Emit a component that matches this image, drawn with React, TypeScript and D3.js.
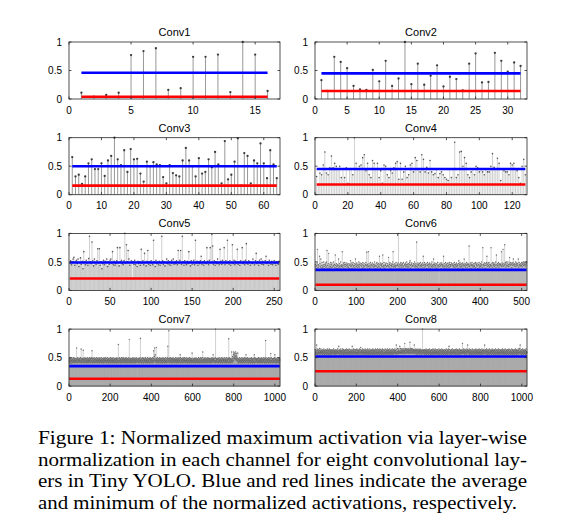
import React from 'react';
import * as d3 from 'd3';

// ---------- data (values in hundredths of the normalized activation) ----------
const layerNames = ['Conv1', 'Conv2', 'Conv3', 'Conv4', 'Conv5', 'Conv6', 'Conv7', 'Conv8'];
const channelCounts = [16, 32, 64, 128, 256, 512, 1024, 1024];
const xTickValues = [
  [0, 5, 10, 15],
  [0, 5, 10, 15, 20, 25, 30],
  [0, 10, 20, 30, 40, 50, 60],
  [0, 20, 40, 60, 80, 100, 120],
  [0, 50, 100, 150, 200, 250],
  [0, 100, 200, 300, 400, 500],
  [0, 200, 400, 600, 800, 1000],
  [0, 200, 400, 600, 800, 1000],
];
const yTickValues = [0, 0.5, 1];
const averageLevels = [0.46, 0.45, 0.5, 0.45, 0.49, 0.36, 0.35, 0.52];
const minimumLevels = [0.04, 0.14, 0.16, 0.18, 0.21, 0.1, 0.13, 0.26];

const conv1Values = [11, 4, 7, 11, 77, 84, 89, 16, 19, 74, 74, 78, 12, 100, 78, 14];
const conv2Values = [
  33, 14, 74, 65, 54, 23, 17, 16, 51, 31, 67, 23, 36, 100, 26, 62,
  25, 41, 59, 22, 39, 35, 15, 62, 80, 29, 30, 81, 67, 48, 64, 58,
];
const conv3Values = [
  66, 32, 35, 19, 32, 55, 62, 45, 45, 55, 33, 60, 68, 100, 62, 52,
  78, 40, 80, 62, 63, 37, 23, 58, 50, 57, 53, 52, 31, 20, 52, 38,
  34, 32, 60, 82, 60, 50, 32, 64, 37, 40, 62, 48, 75, 53, 20, 94,
  27, 35, 58, 99, 16, 73, 68, 20, 60, 55, 90, 55, 29, 78, 53, 29,
];
const conv4Values = [
  32, 18, 38, 35, 52, 75, 38, 35, 47, 68, 47, 55, 50, 45, 50, 30,
  45, 30, 47, 20, 45, 45, 35, 100, 55, 45, 50, 52, 65, 70, 42, 55,
  35, 30, 60, 55, 45, 55, 30, 42, 20, 52, 50, 35, 30, 42, 38, 47,
  55, 58, 27, 55, 27, 40, 50, 30, 35, 52, 55, 40, 65, 60, 45, 40,
  70, 62, 40, 48, 38, 60, 40, 35, 37, 45, 30, 37, 40, 35, 30, 27,
  25, 45, 30, 45, 92, 30, 35, 75, 76, 50, 65, 55, 35, 30, 40, 45,
  35, 50, 47, 40, 45, 40, 35, 45, 40, 40, 50, 72, 48, 45, 64, 55,
  25, 45, 42, 40, 40, 35, 55, 52, 55, 45, 42, 30, 20, 50, 62, 35,
];
const conv5Values = [
  48, 52, 45, 50, 55, 58, 44, 50, 53, 47, 55, 42, 49, 57, 46, 51,
  38, 68, 50, 45, 53, 48, 44, 56, 95, 50, 47, 85, 52, 43, 55, 49,
  46, 52, 73, 48, 73, 44, 50, 38, 47, 53, 45, 51, 49, 55, 42, 50,
  46, 53, 55, 48, 68, 45, 51, 44, 47, 52, 75, 49, 43, 75, 50, 53,
  47, 45, 52, 100, 48, 80, 50, 70, 55, 44, 49, 52, 21, 50, 46, 53,
  45, 49, 42, 51, 47, 50, 44, 72, 48, 52, 45, 65, 49, 43, 51, 70,
  46, 50, 44, 52, 48, 45, 88, 50, 42, 53, 47, 49, 45, 51, 44, 48,
  95, 52, 46, 50, 43, 49, 55, 47, 52, 45, 50, 44, 53, 48, 55, 46,
  50, 47, 52, 45, 70, 49, 53, 70, 46, 95, 50, 44, 52, 48, 45, 51,
  47, 68, 50, 43, 52, 46, 49, 53, 45, 88, 48, 51, 44, 50, 47, 52,
  60, 46, 50, 44, 52, 48, 47, 75, 51, 45, 53, 75, 49, 98, 78, 46,
  52, 44, 50, 47, 55, 48, 45, 72, 51, 46, 53, 49, 75, 45, 52, 48,
  88, 50, 46, 52, 44, 49, 80, 47, 53, 45, 51, 48, 72, 46, 50, 44,
  52, 49, 75, 47, 51, 45, 53, 82, 48, 46, 52, 50, 44, 49, 47, 55,
  49, 45, 52, 65, 47, 50, 44, 53, 48, 55, 46, 51, 45, 49, 52, 60,
  47, 50, 44, 53, 48, 46, 51, 45, 49, 52, 47, 44, 50, 48, 46, 51,
];
const conv6Values = [
  46, 42, 38, 44, 48, 72, 40, 45, 43, 36, 60, 47, 41, 55, 44, 39,
  49, 43, 40, 45, 50, 42, 38, 46, 44, 48, 41, 50, 70, 44, 39, 47,
  65, 43, 39, 46, 42, 49, 40, 45, 48, 41, 35, 44, 50, 43, 46, 40,
  62, 44, 39, 47, 42, 45, 38, 44, 55, 41, 47, 43, 39, 50, 44, 42,
  45, 68, 41, 44, 48, 39, 45, 49, 42, 46, 37, 44, 48, 41, 46, 43,
  40, 47, 44, 38, 46, 52, 42, 44, 48, 39, 45, 49, 43, 41, 47, 44,
  39, 55, 46, 42, 48, 44, 40, 46, 43, 50, 41, 45, 48, 37, 44, 47,
  42, 46, 39, 49, 44, 41, 47, 43, 38, 45, 49, 44, 67, 41, 46, 44,
  68, 42, 47, 39, 44, 49, 41, 46, 44, 37, 48, 43, 46, 41, 45, 50,
  42, 44, 38, 47, 43, 49, 40, 46, 43, 47, 41, 60, 45, 39, 48, 44,
  46, 42, 47, 62, 41, 44, 49, 43, 39, 46, 44, 48, 42, 36, 47, 44,
  43, 58, 41, 46, 49, 44, 39, 47, 44, 42, 46, 50, 68, 41, 45, 43,
  47, 41, 44, 49, 43, 38, 46, 44, 48, 100, 42, 45, 39, 47, 44, 49,
  41, 46, 44, 47, 41, 49, 43, 38, 46, 44, 48, 42, 45, 50, 41, 46,
  43, 47, 41, 45, 49, 52, 44, 39, 46, 48, 42, 44, 36, 47, 43, 46,
  50, 41, 44, 47, 42, 85, 45, 41, 48, 44, 46, 39, 47, 43, 49, 44,
  42, 46, 44, 48, 40, 60, 44, 46, 49, 41, 45, 43, 47, 38, 44, 49,
  44, 46, 41, 46, 48, 43, 39, 45, 47, 42, 50, 44, 41, 46, 55, 43,
  45, 48, 41, 44, 47, 39, 46, 43, 49, 41, 44, 10, 46, 42, 48, 44,
  38, 46, 48, 43, 45, 41, 60, 44, 47, 42, 39, 49, 44, 46, 41, 47,
  43, 48, 44, 40, 46, 49, 42, 45, 44, 48, 37, 46, 43, 47, 44, 41,
  49, 45, 41, 46, 44, 48, 42, 46, 44, 39, 47, 52, 43, 46, 49, 41,
  45, 47, 42, 44, 48, 39, 46, 43, 55, 44, 47, 41, 46, 44, 49, 40,
  45, 47, 43, 46, 78, 42, 44, 48, 39, 46, 44, 49, 43, 45, 41, 47,
  44, 42, 47, 49, 40, 46, 44, 48, 43, 38, 46, 45, 49, 41, 44, 47,
  42, 46, 50, 44, 40, 75, 45, 46, 43, 48, 44, 39, 47, 44, 49, 60,
  46, 42, 48, 44, 49, 41, 46, 43, 45, 75, 43, 47, 40, 49, 44, 46,
  48, 42, 46, 44, 50, 40, 62, 45, 43, 47, 44, 49, 41, 46, 47, 44,
  46, 44, 68, 42, 48, 45, 72, 43, 47, 44, 80, 46, 49, 41, 50, 44,
  47, 43, 50, 45, 42, 46, 58, 48, 44, 49, 46, 40, 47, 44, 49, 55,
  45, 47, 43, 46, 50, 42, 46, 48, 44, 47, 44, 55, 41, 49, 45, 46,
  43, 47, 44, 49, 42, 46, 48, 50, 44, 47, 45, 49, 43, 46, 48, 50,
];
const conv7Values = [
  46, 43, 48, 41, 45, 49, 42, 47, 44, 40, 48, 45, 43, 50, 46, 42,
  47, 44, 41, 48, 45, 50, 43, 46, 42, 49, 44, 47, 41, 45, 48, 43,
  45, 49, 42, 46, 67, 44, 48, 41, 47, 43, 50, 45, 42, 48, 44, 46,
  43, 47, 45, 49, 41, 46, 44, 50, 42, 48, 65, 45, 43, 47, 41, 49,
  46, 42, 48, 44, 63, 47, 43, 49, 45, 41, 47, 44, 50, 42, 46, 48,
  44, 49, 41, 46, 43, 48, 45, 42, 50, 44, 47, 41, 49, 45, 43, 47,
  42, 48, 45, 50, 43, 47, 41, 46, 49, 44, 42, 48, 45, 50, 43, 62,
  47, 41, 49, 44, 46, 42, 48, 45, 43, 50, 44, 47, 41, 46, 49, 43,
  48, 44, 42, 47, 45, 50, 43, 46, 41, 49, 44, 47, 42, 48, 45, 43,
  46, 50, 41, 47, 44, 48, 43, 45, 49, 42, 46, 44, 50, 41, 47, 45,
  43, 48, 45, 42, 49, 44, 47, 41, 46, 50, 43, 48, 44, 42, 47, 45,
  50, 43, 46, 48, 41, 45, 49, 44, 42, 47, 45, 50, 43, 46, 41, 48,
  44, 47, 42, 49, 45, 43, 48, 41, 46, 50, 44, 47, 42, 45, 49, 43,
  47, 41, 48, 45, 43, 50, 44, 46, 42, 49, 45, 41, 47, 44, 48, 43,
  46, 49, 42, 45, 48, 41, 47, 44, 50, 43, 46, 42, 48, 45, 41, 73,
  44, 48, 43, 46, 50, 42, 45, 49, 41, 47, 44, 43, 48, 46, 42, 50,
  45, 41, 49, 44, 47, 43, 46, 50, 42, 48, 45, 41, 47, 44, 49, 43,
  46, 42, 48, 45, 50, 41, 47, 44, 43, 49, 46, 42, 48, 45, 41, 47,
  44, 50, 43, 46, 82, 42, 48, 45, 41, 47, 44, 49, 43, 46, 42, 48,
  45, 41, 49, 44, 47, 43, 50, 46, 42, 48, 45, 41, 47, 44, 49, 43,
  46, 42, 48, 45, 41, 50, 44, 47, 43, 49, 46, 42, 13, 45, 48, 44,
  47, 43, 49, 41, 46, 44, 48, 42, 50, 45, 84, 43, 47, 44, 41, 49,
  46, 42, 48, 45, 43, 50, 44, 47, 41, 49, 46, 42, 48, 45, 43, 47,
  44, 50, 42, 46, 49, 41, 47, 45, 43, 48, 44, 42, 50, 46, 41, 47,
  45, 43, 49, 44, 47, 42, 48, 46, 41, 50, 44, 47, 43, 49, 45, 42,
  48, 46, 41, 47, 44, 50, 43, 45, 49, 42, 62, 46, 48, 44, 52, 67,
  47, 43, 55, 45, 42, 49, 46, 68, 44, 48, 41, 47, 45, 50, 43, 46,
  42, 48, 45, 41, 49, 44, 47, 43, 50, 46, 42, 48, 45, 41, 47, 44,
  49, 43, 46, 42, 48, 45, 41, 50, 44, 47, 43, 49, 46, 42, 48, 45,
  41, 47, 44, 50, 43, 46, 42, 49, 45, 41, 48, 44, 47, 43, 50, 70,
  46, 42, 48, 45, 97, 44, 47, 43, 49, 41, 46, 50, 44, 48, 42, 45,
  47, 43, 49, 44, 41, 48, 46, 42, 50, 45, 43, 47, 44, 49, 41, 46,
  48, 44, 42, 47, 45, 50, 43, 46, 41, 49, 44, 47, 42, 48, 45, 43,
  46, 50, 41, 47, 44, 48, 43, 45, 49, 42, 46, 55, 50, 41, 47, 45,
  43, 48, 45, 42, 49, 44, 47, 41, 46, 50, 43, 48, 44, 42, 47, 45,
  50, 43, 46, 48, 41, 45, 49, 44, 42, 47, 45, 50, 43, 46, 41, 48,
  44, 47, 42, 49, 45, 43, 48, 41, 46, 50, 44, 47, 42, 45, 49, 43,
  47, 41, 48, 45, 43, 58, 44, 46, 42, 49, 45, 41, 47, 44, 48, 43,
  46, 49, 42, 45, 48, 41, 47, 44, 50, 43, 46, 42, 48, 45, 41, 47,
  44, 48, 43, 46, 50, 42, 45, 49, 41, 47, 44, 43, 48, 46, 42, 50,
  45, 41, 49, 44, 47, 43, 46, 50, 42, 60, 45, 41, 47, 44, 49, 43,
  46, 42, 48, 45, 50, 41, 47, 44, 43, 49, 46, 42, 48, 45, 41, 47,
  44, 50, 43, 46, 49, 42, 48, 45, 41, 47, 44, 49, 43, 46, 42, 48,
  45, 41, 49, 44, 47, 43, 50, 46, 42, 48, 45, 55, 47, 44, 49, 43,
  46, 42, 48, 45, 41, 50, 44, 100, 43, 49, 46, 42, 48, 45, 43, 47,
  47, 43, 49, 41, 46, 44, 48, 42, 50, 45, 43, 47, 44, 49, 41, 46,
  46, 42, 48, 45, 43, 50, 44, 47, 41, 49, 46, 42, 48, 45, 43, 47,
  44, 50, 42, 46, 49, 41, 47, 45, 43, 48, 44, 42, 50, 46, 41, 47,
  45, 43, 49, 44, 47, 42, 48, 83, 41, 50, 44, 47, 43, 49, 45, 42,
  48, 46, 41, 47, 44, 60, 43, 45, 49, 42, 52, 46, 48, 44, 55, 60,
  56, 50, 58, 48, 53, 49, 57, 46, 52, 60, 49, 54, 47, 57, 51, 45,
  49, 43, 48, 58, 44, 48, 41, 46, 42, 47, 45, 50, 43, 46, 42, 48,
  45, 41, 49, 44, 47, 43, 46, 50, 42, 48, 45, 41, 47, 44, 49, 43,
  46, 42, 48, 45, 50, 41, 47, 44, 43, 49, 46, 55, 48, 45, 41, 47,
  44, 50, 43, 46, 49, 42, 48, 45, 41, 47, 44, 49, 43, 46, 42, 48,
  45, 41, 49, 44, 47, 43, 50, 46, 42, 48, 45, 41, 47, 44, 49, 43,
  46, 42, 48, 55, 41, 50, 44, 47, 43, 49, 46, 42, 48, 45, 43, 47,
  47, 43, 49, 41, 46, 44, 48, 42, 50, 45, 43, 47, 44, 49, 41, 46,
  46, 42, 48, 45, 43, 50, 44, 47, 41, 49, 46, 42, 48, 45, 43, 47,
  44, 50, 42, 46, 49, 41, 47, 45, 43, 48, 80, 42, 50, 46, 41, 47,
  45, 43, 49, 44, 47, 42, 48, 46, 41, 50, 44, 47, 43, 49, 45, 42,
  48, 46, 41, 57, 44, 50, 43, 45, 49, 42, 47, 46, 48, 44, 41, 47,
  43, 49, 45, 42, 48, 44, 50, 55, 46, 41, 47, 44, 49, 43, 46, 42,
  48, 45, 41, 47, 44, 50, 43, 46, 42, 49, 45, 41, 47, 44, 48, 46,
];
const conv8Values = [
  64, 58, 61, 56, 63, 59, 57, 72, 62, 58, 65, 56, 60, 63, 57, 61,
  59, 64, 57, 62, 58, 66, 60, 56, 63, 59, 61, 57, 65, 58, 62, 60,
  57, 63, 59, 61, 56, 64, 58, 62, 60, 57, 65, 59, 61, 56, 63, 58,
  62, 57, 60, 64, 58, 61, 56, 63, 59, 62, 57, 65, 60, 58, 63, 56,
  60, 63, 57, 61, 65, 58, 62, 56, 64, 59, 61, 57, 63, 60, 58, 62,
  56, 64, 59, 61, 57, 63, 58, 62, 60, 65, 57, 59, 63, 56, 61, 58,
  63, 57, 61, 59, 64, 56, 62, 58, 60, 63, 57, 61, 65, 58, 59, 62,
  57, 60, 70, 58, 63, 56, 61, 64, 59, 57, 62, 60, 65, 58, 61, 56,
  62, 59, 57, 63, 60, 65, 58, 61, 56, 64, 59, 62, 57, 60, 63, 58,
  61, 56, 64, 59, 62, 57, 60, 65, 58, 63, 56, 61, 59, 64, 57, 62,
  58, 63, 60, 56, 65, 59, 61, 57, 64, 58, 62, 60, 56, 63, 59, 61,
  57, 64, 60, 70, 58, 62, 56, 63, 59, 61, 65, 57, 60, 58, 64, 59,
  62, 56, 61, 64, 58, 60, 57, 63, 59, 65, 56, 62, 60, 58, 64, 57,
  61, 59, 63, 56, 62, 58, 65, 60, 57, 61, 64, 59, 68, 56, 62, 60,
  58, 63, 57, 61, 65, 59, 62, 56, 60, 64, 58, 61, 57, 63, 59, 62,
  56, 65, 60, 58, 62, 57, 64, 59, 61, 56, 63, 58, 60, 65, 57, 62,
  59, 61, 56, 64, 58, 62, 60, 57, 65, 59, 61, 56, 63, 58, 62, 60,
  57, 64, 59, 61, 56, 63, 58, 65, 60, 57, 62, 59, 64, 56, 61, 58,
  63, 57, 60, 65, 58, 62, 56, 61, 64, 59, 57, 63, 60, 58, 65, 56,
  61, 59, 64, 57, 62, 58, 60, 63, 56, 65, 59, 61, 57, 64, 58, 62,
  60, 56, 63, 59, 61, 65, 57, 62, 58, 64, 56, 60, 26, 59, 63, 57,
  62, 58, 65, 56, 61, 59, 64, 57, 60, 63, 58, 61, 56, 65, 59, 62,
  57, 63, 60, 58, 64, 56, 61, 59, 65, 57, 62, 60, 58, 63, 56, 61,
  64, 59, 57, 62, 60, 65, 58, 61, 56, 63, 59, 64, 57, 60, 62, 58,
  61, 65, 57, 63, 59, 62, 58, 60, 72, 56, 64, 59, 61, 57, 66, 60,
  58, 63, 61, 57, 65, 59, 62, 60, 58, 70, 61, 57, 66, 59, 63, 60,
  62, 58, 65, 60, 64, 57, 61, 63, 59, 66, 58, 62, 60, 65, 57, 63,
  61, 75, 59, 64, 58, 62, 66, 57, 63, 60, 65, 58, 62, 61, 64, 59,
  60, 66, 58, 63, 61, 65, 59, 62, 57, 64, 77, 60, 63, 58, 66, 61,
  64, 59, 62, 66, 58, 63, 60, 65, 57, 62, 61, 64, 59, 63, 60, 72,
  62, 58, 64, 60, 57, 63, 61, 65, 59, 62, 56, 64, 60, 58, 63, 61,
  57, 65, 59, 62, 60, 58, 64, 56, 63, 61, 59, 65, 57, 62, 60, 64,
  58, 61, 56, 63, 60, 58, 62, 100, 59, 64, 57, 61, 63, 58, 60, 62,
  56, 64, 59, 61, 57, 63, 60, 58, 65, 56, 62, 59, 61, 64, 57, 60,
  63, 58, 61, 56, 64, 59, 62, 57, 60, 65, 58, 61, 63, 56, 62, 59,
  60, 57, 64, 58, 62, 56, 63, 60, 59, 65, 57, 61, 58, 64, 56, 62,
  59, 63, 57, 61, 65, 58, 60, 62, 56, 64, 59, 61, 57, 63, 60, 58,
  64, 56, 62, 59, 61, 57, 65, 60, 58, 63, 56, 62, 60, 64, 57, 61,
  58, 63, 60, 56, 65, 59, 62, 57, 61, 64, 58, 60, 63, 56, 62, 59,
  61, 57, 64, 58, 60, 63, 56, 62, 59, 65, 57, 61, 58, 64, 60, 56,
  63, 59, 61, 57, 65, 58, 62, 70, 60, 56, 64, 59, 61, 57, 63, 60,
  58, 62, 56, 64, 59, 61, 57, 65, 60, 58, 63, 56, 62, 59, 61, 64,
  57, 60, 63, 58, 62, 56, 64, 59, 61, 57, 65, 60, 58, 63, 56, 62,
  60, 64, 57, 61, 59, 63, 56, 62, 58, 65, 60, 57, 61, 64, 59, 62,
  56, 63, 60, 58, 62, 57, 64, 59, 75, 61, 57, 63, 60, 58, 65, 62,
  59, 61, 56, 64, 58, 62, 60, 57, 63, 59, 65, 58, 61, 56, 62, 60,
  64, 72, 60, 62, 57, 63, 59, 61, 58, 65, 56, 62, 60, 58, 64, 57,
  61, 59, 63, 56, 62, 58, 60, 65, 57, 61, 64, 59, 56, 63, 60, 58,
  62, 57, 64, 60, 58, 61, 56, 63, 59, 65, 57, 62, 60, 58, 64, 56,
  61, 59, 63, 57, 60, 64, 58, 62, 56, 65, 59, 61, 57, 63, 60, 58,
  64, 56, 62, 59, 61, 57, 65, 60, 58, 63, 56, 62, 60, 64, 57, 61,
  58, 63, 60, 72, 59, 62, 57, 64, 58, 61, 56, 63, 60, 65, 57, 62,
  59, 61, 56, 64, 60, 58, 63, 57, 62, 59, 65, 56, 61, 58, 64, 60,
  57, 62, 59, 63, 56, 61, 60, 65, 58, 62, 57, 64, 59, 61, 56, 63,
  60, 58, 64, 57, 62, 59, 61, 56, 65, 60, 58, 63, 57, 62, 59, 64,
  56, 61, 58, 63, 60, 57, 65, 59, 62, 56, 64, 58, 61, 60, 57, 63,
  59, 62, 56, 64, 58, 61, 57, 63, 60, 65, 58, 62, 56, 61, 59, 64,
  57, 60, 63, 58, 62, 56, 65, 59, 61, 57, 64, 60, 58, 63, 56, 62,
  61, 58, 64, 57, 60, 62, 56, 63, 59, 65, 58, 61, 57, 64, 60, 58,
  63, 56, 62, 59, 61, 57, 65, 60, 58, 64, 56, 62, 59, 63, 57, 61,
  58, 64, 60, 56, 63, 59, 61, 57, 65, 58, 62, 60, 56, 64, 59, 62,
  57, 61, 63, 58, 60, 56, 65, 59, 62, 57, 64, 60, 58, 66, 61, 72,
  60, 57, 63, 59, 61, 56, 64, 58, 62, 60, 57, 65, 59, 61, 56, 63,
  58, 62, 60, 64, 57, 61, 59, 63, 56, 62, 58, 65, 60, 57, 61, 59,
];
const seriesList = [conv1Values, conv2Values, conv3Values, conv4Values, conv5Values, conv6Values, conv7Values, conv8Values];

const captionLines = [
  'Figure 1: Normalized maximum activation via layer-wise',
  'normalization in each channel for eight convolutional lay-',
  'ers in Tiny YOLO. Blue and red lines indicate the average',
  'and minimum of the normalized activations, respectively.',
];

// ---------- layout ----------
const W = 565;
const H = 531;
const colLeft = [69, 315];
const colWidth = [211, 212];
const rowTop0 = 42;
const rowStep = 95.7;
const panelH = 57;
const tickLen = 2.5;
const axisFont = '"Liberation Sans", Arial, Helvetica, sans-serif';
const captionFont = '"Liberation Serif", "Times New Roman", Times, serif';

function Panel({ k }: { k: number }) {
  const n = channelCounts[k];
  const values = seriesList[k].slice(0, n).map((v) => v / 100);
  const col = k % 2;
  const row = Math.floor(k / 2);
  const left = colLeft[col];
  const width = colWidth[col];
  const top = rowTop0 + row * rowStep;
  const bottom = top + panelH;
  const x = d3.scaleLinear().domain([0, n + 1]).range([left, left + width]);
  const y = d3.scaleLinear().domain([0, 1]).range([bottom, top]);
  const dense = n > 100;
  const veryDense = n > 300;
  const stemPath = values.map((v, i) => `M${x(i + 1).toFixed(2)},${y(0).toFixed(2)}V${y(v).toFixed(2)}`).join('');
  return (
    <g>
      <text x={left + width / 2} y={top - 6} textAnchor="middle" fontFamily={axisFont} fontSize={11} fill="#000">
        {layerNames[k]}
      </text>
      <path d={stemPath} stroke={dense ? '#a8a8a8' : '#8c8c8c'} strokeWidth={dense ? 0.55 : 0.9} fill="none" />
      {values.map((v, i) => (
        <circle
          key={i}
          cx={x(i + 1)}
          cy={y(v)}
          r={veryDense ? 0.7 : dense ? 0.8 : 1.15}
          fill={veryDense ? '#6a6a6a' : dense ? '#555' : '#3a3a3a'}
        />
      ))}
      <line x1={x(1)} x2={x(n)} y1={y(averageLevels[k])} y2={y(averageLevels[k])} stroke="#0000ff" strokeWidth={2.6} />
      <line x1={x(1)} x2={x(n)} y1={y(minimumLevels[k])} y2={y(minimumLevels[k])} stroke="#ff0000" strokeWidth={2.6} />
      <rect x={left} y={top} width={width} height={panelH} fill="none" stroke="#262626" strokeWidth={0.8} />
      {xTickValues[k].map((t) => (
        <g key={'x' + t}>
          <line x1={x(t)} x2={x(t)} y1={bottom} y2={bottom - tickLen} stroke="#262626" strokeWidth={0.8} />
          <line x1={x(t)} x2={x(t)} y1={top} y2={top + tickLen} stroke="#262626" strokeWidth={0.8} />
          <text x={x(t)} y={bottom + 14.5} textAnchor="middle" fontFamily={axisFont} fontSize={10} fill="#000">
            {t}
          </text>
        </g>
      ))}
      {yTickValues.map((t) => (
        <g key={'y' + t}>
          <line x1={left} x2={left + tickLen} y1={y(t)} y2={y(t)} stroke="#262626" strokeWidth={0.8} />
          <line x1={left + width} x2={left + width - tickLen} y1={y(t)} y2={y(t)} stroke="#262626" strokeWidth={0.8} />
          <text x={left - 7} y={y(t) + 3.6} textAnchor="end" fontFamily={axisFont} fontSize={10} fill="#000">
            {t}
          </text>
        </g>
      ))}
    </g>
  );
}

export default function App() {
  const captionBase = 444;
  const captionStep = 21.7;
  const captionLeft = 38;
  const captionWidths = [489, 489, 489, 479];
  return (
    <svg width={W} height={H} style={{ position: 'absolute', left: 0, top: 0, display: 'block', background: '#fff' }}>
      <rect x={0} y={0} width={W} height={H} fill="#fff" />
      {layerNames.map((_, k) => (
        <Panel key={k} k={k} />
      ))}
      {captionLines.map((line, i) => (
        <text
          key={i}
          x={captionLeft}
          y={captionBase + i * captionStep}
          fontFamily={captionFont}
          fontSize={18}
          fill="#000"
          textLength={captionWidths[i]}
          lengthAdjust="spacingAndGlyphs"
        >
          {line}
        </text>
      ))}
    </svg>
  );
}
